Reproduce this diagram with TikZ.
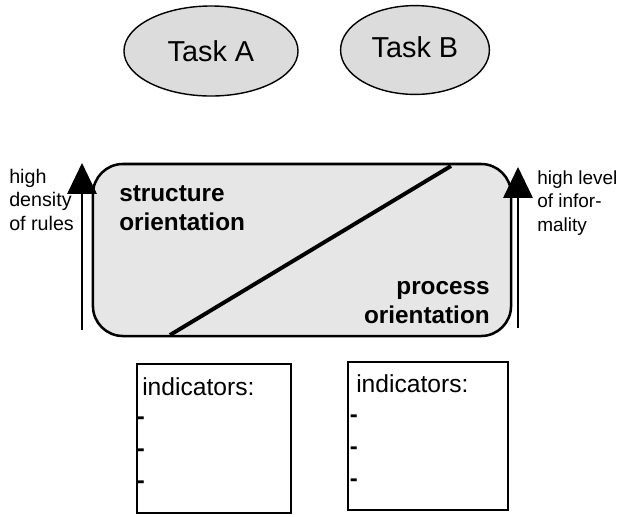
\documentclass[tikz,border=0pt]{standalone}
\usepackage{fontspec}
\setmainfont{Liberation Sans}
\usetikzlibrary{arrows.meta, positioning, shapes.geometric}
\definecolor{taskgray}{HTML}{DCDCDC}
\definecolor{panelgray}{HTML}{E6E6E6}

\begin{document}
\begin{tikzpicture}[
  x=0.025cm, y=-0.025cm,
  every node/.style={font=\fontsize{14}{16.7}\selectfont, inner sep=0pt},
  task/.style={ellipse, draw, fill=taskgray, line width=1pt,
               font=\fontsize{20.5}{24}\selectfont},
  panel/.style={draw, fill=panelgray, rounded corners=0.75cm, line width=1.8pt,
                minimum width=10.45cm, minimum height=4.3cm},
  orient/.style={font=\bfseries\fontsize{17.3}{20.6}\selectfont},
  indbox/.style={draw, line width=1.4pt, minimum height=3.72cm},
  side/.style={align=left, anchor=base west},
  rise/.style={-{Triangle[width=21pt,length=22pt]}, line width=1pt},
  bullet/.style={font=\bfseries\fontsize{17}{17}\selectfont, anchor=base west}
]

\useasboundingbox (0,0) rectangle (621,516);

\node[task, minimum width=4.35cm, minimum height=2.25cm] (taskA) at (211,51) {Task A};
\node[task, minimum width=3.72cm, minimum height=2.22cm] (taskB) at (415,50) {\raisebox{4pt}{Task B}};

\node[panel] (panel) at (302,250) {};
\coordinate (diagS) at (170,335);
\coordinate (diagN) at (451,166);
\draw[line width=2.8pt] (diagS) -- (diagN);

% last line sits on the given point
\node[orient, align=left, anchor=base west] (struct) at (119,230.7) {structure\\orientation};
\node[orient, align=right, anchor=base east] (proc) at (490,323) {process\\orientation};

\coordinate (riseL) at (82,330);
\coordinate (topL) at (82,163);
\coordinate (riseR) at (518,328);
\coordinate (topR) at (518,167);
\draw[rise] (riseL) -- (topL);
\draw[rise] (riseR) -- (topR);

\node[side] (rules) at (9,230) {high\\density\\of rules};
\node[side, font=\fontsize{13.5}{16.7}\selectfont] (informal) at (537,231) {high level\\of infor-\\mality};

\node[indbox, minimum width=3.85cm] (indL) at (214,438.5) {};
\node[indbox, minimum width=4.0cm] (indR) at (428,436) {};

\node[font=\fontsize{17.5}{19}\selectfont, anchor=base west] (indLt) at (142,395) {indicators:};
\node[font=\fontsize{17.5}{19}\selectfont, anchor=base west] (indRt) at (356,392) {indicators:};

\foreach \y [count=\i] in {424,456,488} {
  \node[bullet] (dL\i) at (136.5,\y) {-};
  \node[bullet] (dR\i) at (349.5,\y-2) {-};
}

\end{tikzpicture}
\end{document}
